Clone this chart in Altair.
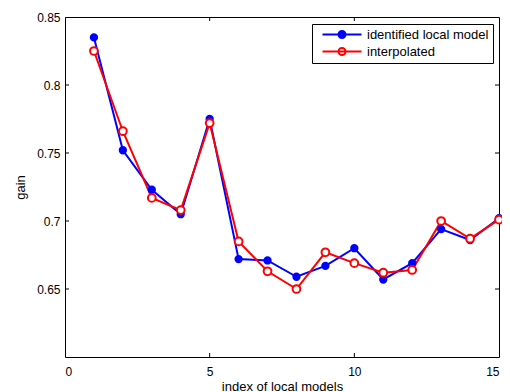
import altair as alt
import pandas as pd

index = list(range(1, 16))
identified = [0.835, 0.752, 0.723, 0.705, 0.775, 0.672, 0.671, 0.659, 0.667, 0.680,
              0.657, 0.669, 0.694, 0.686, 0.702]
interpolated = [0.825, 0.766, 0.717, 0.708, 0.772, 0.685, 0.663, 0.650, 0.677, 0.669,
                0.662, 0.664, 0.700, 0.687, 0.701]
series_names = ["identified local model", "interpolated"]
x_ticks = [5, 10]
y_ticks = [0.65, 0.7, 0.75, 0.8]
x_labels = [0, 5, 10, 15]
y_labels = [0.65, 0.7, 0.75, 0.8, 0.85]

df = pd.DataFrame({
    "index": index * 2,
    "gain": identified + interpolated,
    "series": [series_names[0]] * len(index) + [series_names[1]] * len(index),
})

W, H = 434, 340
FONT = "Liberation Sans"

xscale = alt.Scale(domain=[0, 15], nice=False, zero=False)
yscale = alt.Scale(domain=[0.6, 0.85], nice=False, zero=False)
stroke_scale = alt.Scale(domain=series_names, range=["#0000ff", "#ff0000"])
fill_scale = alt.Scale(domain=series_names, range=["#0000ff", "#ffffff"])

# legend symbol: a line with a circle marker (unit = 5px for symbolSize 100)
sym = "M0,0L7.8,0M3.2,0A0.7,0.7,0,1,1,4.6,0A0.7,0.7,0,1,1,3.2,0Z"

legend = alt.Legend(
    title=None, orient="none", legendX=247, legendY=7,
    symbolType=sym, symbolSize=100, symbolStrokeWidth=2,
    labelFont=FONT, labelFontSize=13, labelColor="black",
    strokeColor="black", fillColor="white", padding=4,
    rowPadding=2, labelOffset=38,
)

x_enc = alt.X("index:Q", scale=xscale, axis=alt.Axis(
    title="index of local models", values=x_labels, grid=False, ticks=False,
    labelPadding=9, titlePadding=3, domain=False))
y_enc = alt.Y("gain:Q", scale=yscale, axis=alt.Axis(
    title="gain", values=y_labels, format=".2~f", grid=False, ticks=False,
    labelPadding=5, titlePadding=9, domain=False))

lines = alt.Chart(df).mark_line(strokeWidth=2).encode(
    x=x_enc, y=y_enc,
    stroke=alt.Stroke("series:N", scale=stroke_scale, legend=legend),
    detail="series:N",
)
points = alt.Chart(df).mark_point(strokeWidth=2, opacity=1).encode(
    x="index:Q", y="gain:Q",
    stroke=alt.Stroke("series:N", scale=stroke_scale, legend=legend),
    fill=alt.Fill("series:N", scale=fill_scale, legend=legend),
    size=alt.condition(alt.datum.series == series_names[0], alt.value(40), alt.value(60)),
)

xt = pd.DataFrame({"index": x_ticks})
yt = pd.DataFrame({"gain": y_ticks})
tb = alt.Chart(xt).mark_rule(color="black").encode(x="index:Q", y=alt.value(H), y2=alt.value(H - 4))
tt = alt.Chart(xt).mark_rule(color="black").encode(x="index:Q", y=alt.value(0), y2=alt.value(4))
tl = alt.Chart(yt).mark_rule(color="black").encode(y="gain:Q", x=alt.value(0), x2=alt.value(4))
tr = alt.Chart(yt).mark_rule(color="black").encode(y="gain:Q", x=alt.value(W), x2=alt.value(W - 4))

chart = alt.layer(tb, tt, tl, tr, lines, points).properties(
    width=W, height=H,
    background="white",
    padding={"left": 57, "top": 9, "right": 3, "bottom": 35},
    autosize=alt.AutoSizeParams(type="none"),
).configure_view(stroke="black", strokeWidth=1).configure_axis(
    labelFont=FONT, titleFont=FONT, labelFontSize=12, titleFontSize=13,
    labelColor="black", titleColor="black", titleFontWeight="normal",
)

chart.save("out.html", embed_options={"renderer": "svg", "actions": False})
